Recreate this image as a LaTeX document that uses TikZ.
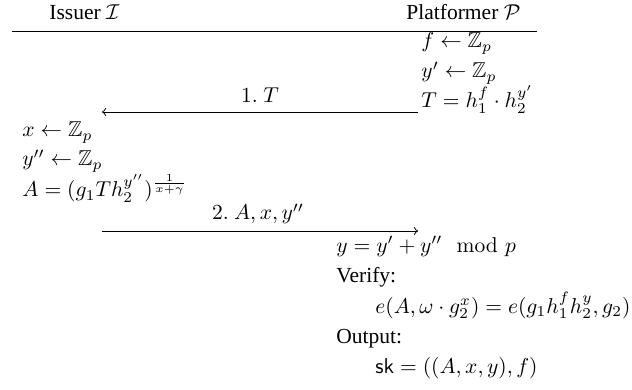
\documentclass[tikz,border=0pt]{standalone}
\usepackage[no-math]{fontspec}
\setmainfont{Liberation Serif}
\usepackage{amsmath,amssymb}
\begin{document}
\begin{tikzpicture}[x=0.465pt,y=-0.465pt,
  lbl/.style={anchor=base west, inner sep=0pt},
  msg/.style={anchor=base, inner sep=0pt},
  conn/.style={line width=0.45pt}]
\useasboundingbox (0,0) rectangle (632,390);
% headers
\node[lbl] (hI) at (49,20) {Issuer $\mathcal{I}$};
\node[lbl] (hP) at (406,20) {Platformer $\mathcal{P}$};
\coordinate (l1) at (12,31.5);
\coordinate (l2) at (537,31.5);
\draw[conn] (l1) -- (l2);
% platformer first steps
\node[lbl] (f) at (421,48) {$f \leftarrow \mathbb{Z}_p$};
\node[lbl] (yp) at (421,78) {$y' \leftarrow \mathbb{Z}_p$};
\node[lbl] (T) at (421,108) {$T = h_1^f \cdot h_2^{y'}$};
% message 1
\coordinate (a1s) at (418,112);
\coordinate (a1e) at (102,112);
\draw[conn,->] (a1s) -- (a1e);
\node[msg] (m1) at (260,103) {$1.\ T$};
% issuer steps
\node[lbl] (x) at (22,137) {$x \leftarrow \mathbb{Z}_p$};
\node[lbl] (ypp) at (22,166) {$y'' \leftarrow \mathbb{Z}_p$};
\node[lbl] (A) at (22,197) {$A = (g_1 T h_2^{y''})^{\frac{1}{x+\gamma}}$};
% message 2
\node[msg] (m2) at (258,220) {$2.\ A, x, y''$};
\coordinate (a2s) at (102,231);
\coordinate (a2e) at (418,231);
\draw[conn,->] (a2s) -- (a2e);
% platformer final steps
\node[lbl] (y) at (336,252) {$y = y' + y'' \mod{p}$};
\node[lbl] (ver) at (336,282) {Verify:};
\node[lbl] (eq) at (375,313) {$e(A, \omega \cdot g_2^x) = e(g_1 h_1^f h_2^y, g_2)$};
\node[lbl] (out) at (336,343) {Output:};
\node[lbl] (sk) at (375,373) {$\mathsf{sk} = ((A, x, y), f)$};
\end{tikzpicture}
\end{document}
